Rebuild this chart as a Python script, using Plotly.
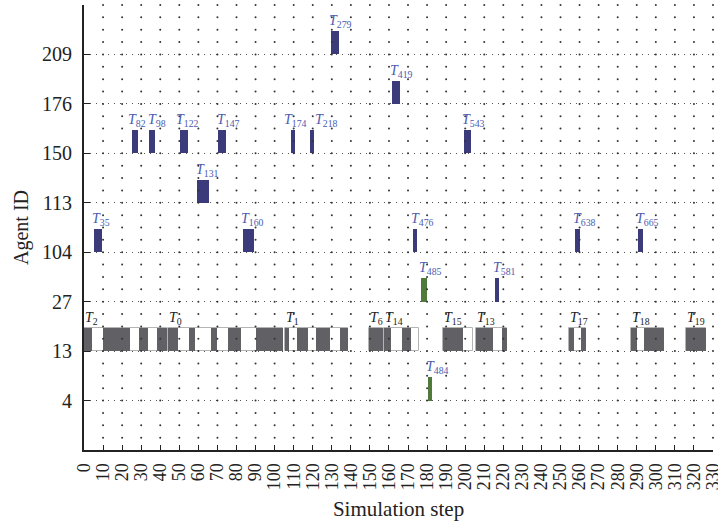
import numpy as np
import plotly.graph_objects as go

# ---------------- data ----------------
row_labels = ["4", "13", "27", "104", "113", "150", "176", "209"]
x_ticks = list(range(0, 331, 10))

# grey (system) tasks on agent row 13: box extent + busy segments
grey_names = ["2", "0", "1", "6", "14", "15", "13", "17", "18", "19"]
grey_start = [0.0, 44.0, 105.5, 149.5, 157.4, 188.5, 205.5, 254.6, 286.8, 315.8]
grey_end = [43.4, 104.6, 138.7, 157.0, 175.9, 204.2, 222.1, 263.2, 304.3, 326.3]
grey_busy = [
    [(0.0, 4.2), (10.1, 24.3), (29.0, 33.4), (38.3, 43.4)],
    [(44.0, 49.5), (55.3, 58.4), (66.5, 69.6), (75.4, 82.3), (90.3, 104.6)],
    [(105.5, 107.6), (111.6, 117.7), (121.5, 129.0), (134.3, 138.7)],
    [(149.5, 157.0)],
    [(157.4, 160.9), (166.6, 171.6)],
    [(188.5, 199.0)],
    [(205.5, 214.7), (219.1, 222.1)],
    [(254.6, 257.1), (260.6, 263.2)],
    [(286.8, 290.3), (294.0, 304.3)],
    [(315.8, 326.3)],
]
grey_row = "13"

# blue tasks
blue_names = ["35", "82", "98", "122", "131", "147", "160", "174", "218",
              "279", "419", "543", "476", "581", "638", "665"]
blue_rows = ["104", "150", "150", "150", "113", "150", "104", "150", "150",
             "209", "176", "150", "104", "27", "104", "104"]
blue_start = [5.2, 25.3, 34.3, 50.4, 59.5, 70.5, 83.4, 108.4, 118.6,
              129.6, 161.6, 199.5, 172.4, 215.6, 257.6, 290.8]
blue_end = [9.4, 28.5, 37.4, 54.4, 65.4, 74.5, 89.3, 110.5, 120.8,
            133.8, 165.8, 202.9, 174.9, 217.9, 260.2, 293.5]

# green tasks
green_names = ["485", "484"]
green_rows = ["27", "4"]
green_start = [176.6, 180.3]
green_end = [180.1, 182.7]

# ---------------- styling ----------------
FONT = "Liberation Serif"
BAR_H = 0.47
DARK = "#616165"
BLUE = "#3b3b7b"
GREEN = "#50793c"
LBLUE = "#4b5bb0"
LABEL_DX = -1.5                       # default label offset (steps) from bar start
LABEL_NUDGE = {"174": -3.8, "218": 2.0, "82": -2.6, "122": -2.6}

def ridx(r):
    return row_labels.index(r)

fig = go.Figure()

# grid dots at intersections
gx, gy = np.meshgrid(np.arange(10, 331, 10), np.arange(-0.75, 8.01, 0.25))
fig.add_trace(go.Scatter(x=gx.ravel(), y=gy.ravel(), mode="markers",
                         marker=dict(size=2, color="#333333"),
                         hoverinfo="skip", showlegend=False, cliponaxis=False))

gr = ridx(grey_row) + BAR_H / 2
# grey task boxes (white with light outline)
fig.add_trace(go.Bar(orientation="h", base=grey_start,
                     x=[e - s for s, e in zip(grey_start, grey_end)],
                     y=[gr] * len(grey_start), width=BAR_H,
                     marker=dict(color="white", line=dict(color="#b4b4b4", width=1)),
                     showlegend=False, hoverinfo="skip"))
seg_s = [a for segs in grey_busy for a, b in segs]
seg_e = [b for segs in grey_busy for a, b in segs]
fig.add_trace(go.Bar(orientation="h", base=seg_s,
                     x=[e - s for s, e in zip(seg_s, seg_e)],
                     y=[gr] * len(seg_s), width=BAR_H,
                     marker=dict(color=DARK, line=dict(width=0)),
                     showlegend=False, hoverinfo="skip"))

fig.add_trace(go.Bar(orientation="h", base=blue_start,
                     x=[e - s for s, e in zip(blue_start, blue_end)],
                     y=[ridx(r) + BAR_H / 2 for r in blue_rows], width=BAR_H,
                     marker=dict(color=BLUE, line=dict(width=0)),
                     showlegend=False, hoverinfo="skip"))
fig.add_trace(go.Bar(orientation="h", base=green_start,
                     x=[e - s for s, e in zip(green_start, green_end)],
                     y=[ridx(r) + BAR_H / 2 for r in green_rows], width=BAR_H,
                     marker=dict(color=GREEN, line=dict(width=0)),
                     showlegend=False, hoverinfo="skip"))

ann = []
for n, s in zip(grey_names, grey_start):
    ann.append(dict(x=s, y=ridx(grey_row) + BAR_H, text=f"<i>T</i><sub>{n}</sub>",
                    xanchor="left", yanchor="bottom", showarrow=False, borderpad=0,
                    font=dict(family=FONT, size=14, color="#222222")))
for names, rows, starts in [(blue_names, blue_rows, blue_start),
                            (green_names, green_rows, green_start)]:
    for n, r, s in zip(names, rows, starts):
        ann.append(dict(x=s + LABEL_NUDGE.get(n, LABEL_DX), y=ridx(r) + BAR_H,
                        text=f"<i>T</i><sub>{n}</sub>",
                        xanchor="left", yanchor="bottom", showarrow=False, borderpad=0,
                        font=dict(family=FONT, size=14, color=LBLUE)))

fig.update_layout(
    width=718, height=528,
    margin=dict(l=84, r=5, t=5, b=78, autoexpand=False),
    paper_bgcolor="white", plot_bgcolor="white",
    barmode="overlay", bargap=0,
    font=dict(family=FONT, color="#222222"),
    annotations=ann,
    showlegend=False,
)
fig.update_xaxes(
    range=[0, 330], tickmode="array", tickvals=x_ticks,
    ticktext=[str(v) for v in x_ticks], tickangle=-90,
    ticks="inside", ticklen=5, tickwidth=1, tickcolor="#222222",
    showline=True, linewidth=2, linecolor="#222222",
    showgrid=False, zeroline=False, automargin=False,
    ticklabeloverflow="allow",
    tickfont=dict(family=FONT, size=18, color="#222222"),
    ticklabelstandoff=4,
    title=dict(text="Simulation step", font=dict(family=FONT, size=21, color="#222222"),
               standoff=12),
)
fig.update_yaxes(
    range=[-1, 8], tickmode="array", tickvals=list(range(len(row_labels))) + [8],
    ticktext=row_labels + [""],
    ticks="inside", ticklen=6, tickwidth=1, tickcolor="#222222",
    showline=True, linewidth=2, linecolor="#222222",
    showgrid=True, gridcolor="#555555", gridwidth=1, griddash="1px,5px",
    zeroline=False, automargin=False,
    tickfont=dict(family=FONT, size=20, color="#222222"),
    ticklabelstandoff=6,
    title=dict(text="Agent ID", font=dict(family=FONT, size=20, color="#222222"),
               standoff=8),
)

fig.write_html("out.html", config={"displayModeBar": False},
               post_script="document.body.style.margin='0';document.body.style.overflow='hidden';")
